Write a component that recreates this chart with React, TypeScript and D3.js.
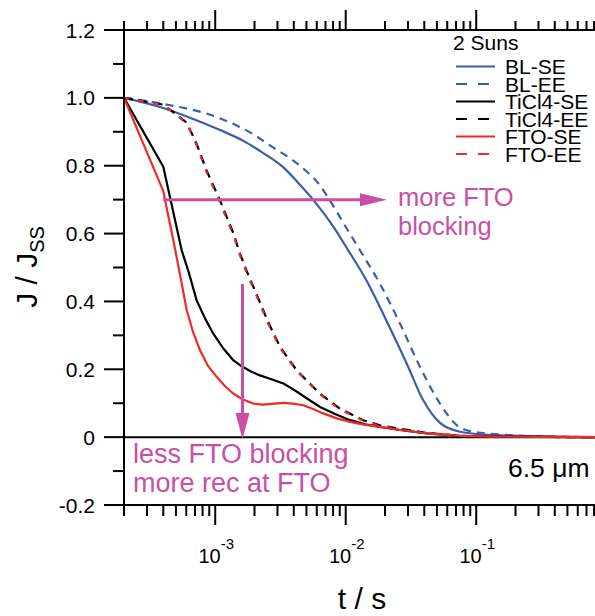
import React, { useEffect, useRef } from 'react';
import * as d3 from 'd3';

const W = 595;
const H = 616;

// ---- data (t in s, J / Jss) ----
const tBLSE = [2e-4, 4e-4, 6.05e-4, 1.09e-3, 1.63e-3, 2.32e-3, 3.33e-3, 4.31e-3, 5.62e-3, 7.99e-3, 1.04e-2, 1.46e-2, 2.07e-2, 2.95e-2, 3.91e-2, 5.28e-2, 7.51e-2, 0.134, 0.439, 1];
const jBLSE = [1, 0.97, 0.945, 0.905, 0.874, 0.838, 0.795, 0.75, 0.70, 0.622, 0.552, 0.458, 0.34, 0.215, 0.11, 0.042, 0.016, 0.006, 0.001, 0];

const tBLEE = [2e-4, 4e-4, 1e-3, 1.95e-3, 2.77e-3, 3.74e-3, 5.05e-3, 6.35e-3, 7.58e-3, 1.04e-2, 1.29e-2, 1.83e-2, 2.61e-2, 3.71e-2, 5.28e-2, 7.12e-2, 9.45e-2, 0.182, 0.439, 1];
const jBLEE = [1, 0.982, 0.945, 0.893, 0.854, 0.822, 0.782, 0.742, 0.697, 0.609, 0.55, 0.452, 0.334, 0.207, 0.099, 0.035, 0.016, 0.006, 0.001, 0];

const tTiSE = [2e-4, 4e-4, 5.54e-4, 6.22e-4, 7.21e-4, 8.35e-4, 9.67e-4, 1.15e-3, 1.38e-3, 1.55e-3, 1.85e-3, 2.2e-3, 2.63e-3, 3.33e-3, 3.88e-3, 4.46e-3, 5.33e-3, 6.35e-3, 8.28e-3, 1.08e-2, 1.41e-2, 1.83e-2, 2.61e-2, 4.2e-2, 7.51e-2, 0.134, 0.308, 1];
const jTiSE = [1, 0.797, 0.55, 0.49, 0.403, 0.35, 0.305, 0.262, 0.226, 0.212, 0.195, 0.182, 0.172, 0.158, 0.143, 0.128, 0.108, 0.089, 0.068, 0.05, 0.038, 0.03, 0.021, 0.011, 0.004, 0.0015, 0.0005, 0];

const tTiEE = [2e-4, 4e-4, 6.05e-4, 7.21e-4, 8.6e-4, 1.09e-3, 1.38e-3, 1.55e-3, 1.74e-3, 2.08e-3, 2.54e-3, 3.14e-3, 4.21e-3, 6.35e-3, 9.04e-3, 1.36e-2, 1.83e-2, 2.61e-2, 4.2e-2, 7.51e-2, 0.134, 0.308, 1];
const jTiEE = [1, 0.98, 0.927, 0.864, 0.785, 0.697, 0.6, 0.54, 0.49, 0.42, 0.34, 0.266, 0.197, 0.128, 0.084, 0.05, 0.035, 0.025, 0.012, 0.004, 0.0015, 0.0005, 0];

const tFTOSE = [2e-4, 4e-4, 4.92e-4, 5.54e-4, 6.05e-4, 6.76e-4, 7.65e-4, 8.8e-4, 1.03e-3, 1.19e-3, 1.38e-3, 1.63e-3, 1.96e-3, 2.28e-3, 2.72e-3, 3.33e-3, 3.94e-3, 4.73e-3, 5.62e-3, 6.73e-3, 8.43e-3, 1.08e-2, 1.41e-2, 1.83e-2, 2.61e-2, 4.2e-2, 7.51e-2, 0.134, 0.308, 1];
const jFTOSE = [1, 0.725, 0.555, 0.452, 0.374, 0.31, 0.256, 0.21, 0.177, 0.15, 0.128, 0.111, 0.099, 0.096, 0.098, 0.101, 0.099, 0.094, 0.083, 0.07, 0.056, 0.045, 0.036, 0.03, 0.021, 0.011, 0.004, 0.0015, 0.0005, 0];

const tFTOEE = [2e-4, 4e-4, 6.05e-4, 7.21e-4, 8.6e-4, 1.09e-3, 1.38e-3, 1.55e-3, 1.74e-3, 2.08e-3, 2.54e-3, 3.14e-3, 4.21e-3, 6.35e-3, 9.04e-3, 1.36e-2, 1.83e-2, 2.61e-2, 4.2e-2, 7.51e-2, 0.134, 0.308, 1];
const jFTOEE = [1, 0.98, 0.925, 0.86, 0.78, 0.69, 0.595, 0.535, 0.485, 0.415, 0.335, 0.262, 0.195, 0.126, 0.082, 0.048, 0.033, 0.023, 0.011, 0.004, 0.0015, 0.0005, 0];

const seriesNames = ['BL-SE', 'BL-EE', 'TiCl4-SE', 'TiCl4-EE', 'FTO-SE', 'FTO-EE'];
const yTickValues = [-0.2, 0, 0.2, 0.4, 0.6, 0.8, 1.0, 1.2];
const yTickLabels = ['-0.2', '0', '0.2', '0.4', '0.6', '0.8', '1.0', '1.2'];
const xDecades = [1e-3, 1e-2, 1e-1];
const xDecadeExp = ['-3', '-2', '-1'];

const BLUE = '#3c5dac';
const RED = '#ee2b27';
const MAG = '#c94fa6';
const FONT = '"Liberation Sans", Arial, sans-serif';

export default function App() {
  const ref = useRef<SVGSVGElement>(null);

  useEffect(() => {
    const svg = d3.select(ref.current);
    svg.selectAll('*').remove();

    const x0 = 124;
    const x = d3.scaleLog().domain([2e-4, 1]).range([x0, x0 + 130.5 * Math.log10(1 / 2e-4)]);
    const y = d3.scaleLinear().domain([-0.2, 1.2]).range([505, 30]);
    const [xl, xr] = x.range();
    const [yb, yt] = y.range();

    const defs = svg.append('defs');
    defs.append('clipPath').attr('id', 'plotclip')
      .append('rect').attr('x', xl).attr('y', yt).attr('width', xr - xl).attr('height', yb - yt);

    // zero line
    svg.append('line').attr('x1', xl).attr('x2', xr).attr('y1', y(0)).attr('y2', y(0))
      .attr('stroke', 'black').attr('stroke-width', 2);

    // curves
    const smooth = d3.line<[number, number]>()
      .x(d => x(d[0])).y(d => y(d[1]))
      .curve(d3.curveMonotoneX);
    const straight = d3.line<[number, number]>()
      .x(d => x(d[0])).y(d => y(d[1]))
      .curve(d3.curveLinear);
    const mk = (ts: number[], js: number[]) => ts.map((t, i) => [t, js[i]] as [number, number]);
    const g = svg.append('g').attr('clip-path', 'url(#plotclip)').attr('fill', 'none');

    const curves = [
      { d: mk(tBLEE, jBLEE), c: BLUE, dash: '8 6', gen: smooth },
      { d: mk(tBLSE, jBLSE), c: BLUE, dash: null, gen: smooth },
      { d: mk(tTiEE, jTiEE), c: 'black', dash: '9 6', gen: straight },
      { d: mk(tFTOEE, jFTOEE), c: RED, dash: '5 10', gen: straight },
      { d: mk(tTiSE, jTiSE), c: 'black', dash: null, gen: straight },
      { d: mk(tFTOSE, jFTOSE), c: RED, dash: null, gen: straight },
    ];
    curves.forEach(s => {
      const p = g.append('path').attr('d', s.gen(s.d) as string)
        .attr('stroke', s.c).attr('stroke-width', 2.2).attr('stroke-linejoin', 'round');
      if (s.dash) p.attr('stroke-dasharray', s.dash);
    });

    // axes frame
    const ax = svg.append('g').attr('stroke', 'black').attr('stroke-width', 2);
    ax.append('line').attr('x1', xl).attr('x2', xl).attr('y1', yt).attr('y2', yb);
    ax.append('line').attr('x1', xr).attr('x2', xr).attr('y1', yt).attr('y2', yb);
    ax.append('line').attr('x1', xl - 1).attr('x2', xr).attr('y1', yt).attr('y2', yt);
    ax.append('line').attr('x1', xl - 1).attr('x2', xr).attr('y1', yb).attr('y2', yb);

    // x ticks (bottom & top, outward)
    const xMinor: number[] = [];
    for (let k = -4; k <= 0; k++) {
      for (let m = 1; m <= 9; m++) {
        const v = m * Math.pow(10, k);
        if (v >= 2e-4 * 0.999 && v <= 1.0001) xMinor.push(v);
      }
    }
    xMinor.forEach(v => {
      const major = Math.abs(Math.log10(v) - Math.round(Math.log10(v))) < 1e-6;
      ax.append('line').attr('x1', x(v)).attr('x2', x(v)).attr('y1', yb).attr('y2', yb + (major ? 20 : 11));
      ax.append('line').attr('x1', x(v)).attr('x2', x(v)).attr('y1', yt).attr('y2', yt - (major ? 20 : 9));
    });

    // y ticks (left, outward)
    for (let i = 0; i <= 14; i++) {
      const v = -0.2 + i * 0.1;
      const major = i % 2 === 0;
      ax.append('line').attr('x1', xl).attr('x2', xl - (major ? 20 : 11)).attr('y1', y(v)).attr('y2', y(v));
    }

    // y tick labels
    yTickValues.forEach((v, i) => {
      svg.append('text').attr('x', 95).attr('y', y(v) + 7.5)
        .attr('text-anchor', 'end').attr('font-family', FONT).attr('font-size', 21)
        .text(yTickLabels[i]);
    });

    // x tick labels
    xDecades.forEach((v, i) => {
      const t = svg.append('text').attr('x', x(v) + 1).attr('y', 563)
        .attr('text-anchor', 'middle').attr('font-family', FONT).attr('font-size', 20);
      t.append('tspan').text('10');
      t.append('tspan').attr('dy', -14).attr('font-size', 15).text(xDecadeExp[i]);
    });

    // axis titles
    svg.append('text').attr('x', 362).attr('y', 609).attr('text-anchor', 'middle')
      .attr('font-family', FONT).attr('font-size', 30).text('t / s');
    const yt2 = svg.append('text').attr('transform', 'translate(37,267) rotate(-90)')
      .attr('text-anchor', 'middle').attr('font-family', FONT).attr('font-size', 30);
    yt2.append('tspan').text('J / J');
    yt2.append('tspan').attr('dy', 7).attr('font-size', 20).text('SS');

    // legend
    svg.append('text').attr('x', 453).attr('y', 50).attr('font-family', FONT).attr('font-size', 21).text('2 Suns');
    const legStyles = [
      { c: BLUE, dash: null },
      { c: BLUE, dash: '11 11' },
      { c: 'black', dash: null },
      { c: 'black', dash: '11 11' },
      { c: RED, dash: null },
      { c: RED, dash: '11 11' },
    ];
    seriesNames.forEach((name, i) => {
      const cy = 66.5 + i * 17.5;
      const l = svg.append('line').attr('x1', 456).attr('x2', 495).attr('y1', cy).attr('y2', cy)
        .attr('stroke', legStyles[i].c).attr('stroke-width', 2.2);
      if (legStyles[i].dash) l.attr('stroke-dasharray', legStyles[i].dash);
      svg.append('text').attr('x', 505).attr('y', cy + 7.5).attr('font-family', FONT).attr('font-size', 21).text(name);
    });

    // annotations
    const ann = svg.append('g');
    ann.append('line').attr('x1', x(4e-4)).attr('x2', 362).attr('y1', y(0.7)).attr('y2', y(0.7))
      .attr('stroke', MAG).attr('stroke-width', 3);
    ann.append('path')
      .attr('d', `M${360},${y(0.7) - 6.5} L${387},${y(0.7)} L${360},${y(0.7) + 6.5} Z`).attr('fill', MAG);
    const vx = 242.5;
    ann.append('line').attr('x1', vx).attr('x2', vx).attr('y1', 284).attr('y2', 415)
      .attr('stroke', MAG).attr('stroke-width', 3);
    ann.append('path')
      .attr('d', `M${vx - 7},${413} L${vx},${y(0) + 2} L${vx + 7},${413} Z`).attr('fill', MAG);

    const mtxt = (tx: number, ty: number, s: string, fs: number) =>
      svg.append('text').attr('x', tx).attr('y', ty).attr('font-family', FONT).attr('font-size', fs)
        .attr('fill', MAG).text(s);
    mtxt(398, 206, 'more FTO', 25.5);
    mtxt(398, 235, 'blocking', 25.5);
    mtxt(133, 463, 'less FTO blocking', 27);
    mtxt(133, 492, 'more rec at FTO', 27);

    svg.append('text').attr('x', 508).attr('y', 477).attr('font-family', FONT).attr('font-size', 26.5)
      .text('6.5 \u03bcm');
  }, []);

  return (
    <div style={{ position: 'absolute', left: 0, top: 0 }}>
      <svg ref={ref} width={W} height={H} style={{ display: 'block', background: 'white' }} />
    </div>
  );
}
